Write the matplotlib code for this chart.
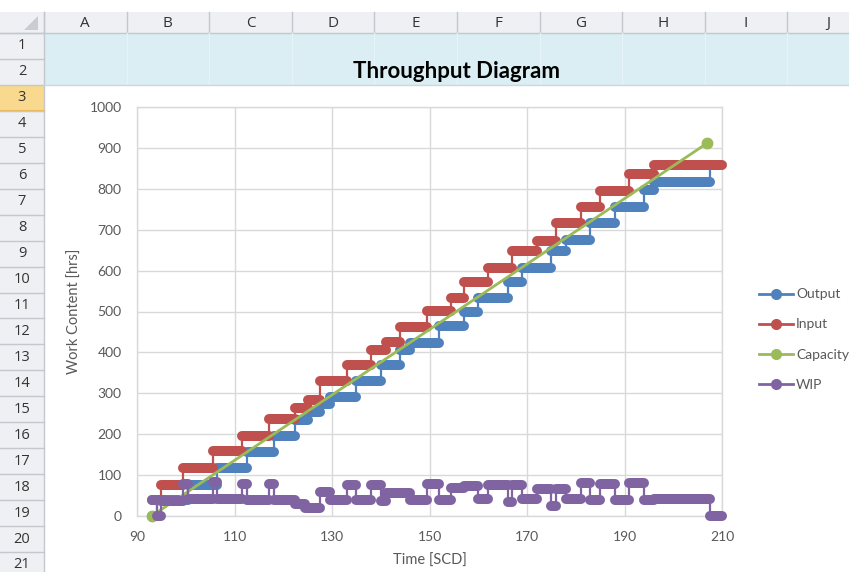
import matplotlib
matplotlib.use('Agg')
import matplotlib.pyplot as plt
from matplotlib.lines import Line2D
from matplotlib.patches import Rectangle, Polygon

# ---------------- data ----------------
input_times = [93, 95, 99.5, 105.5, 111.5, 117, 122.5, 125, 127.5, 133, 138, 141, 144, 149.5,
               154.5, 157, 162, 167, 172, 176, 181, 185, 191, 196]
input_levels = [40, 77, 118, 159, 196, 236, 265, 284, 331, 369, 406, 426, 463, 502,
                532, 573, 607, 649, 673, 716, 755, 795, 835, 857]
input_end = 210

output_times = [93, 94, 100.5, 106.5, 112.5, 118, 122.5, 125, 127.5, 129.5, 135, 140, 144, 146,
                152, 157, 160, 166, 169, 175, 178, 183, 188, 194, 196, 207.5]
output_levels = [0, 40, 77, 118, 157, 196, 235, 255, 275, 292, 331, 369, 407, 424,
                 464, 500, 532, 573, 607, 649, 675, 716, 755, 797, 816, 857]
output_end = 208

capacity_x = [93, 207]
capacity_y = [0, 912]

wip_times = [93, 94, 95, 99.5, 100.5, 105.5, 106.5, 111.5, 112.5, 117, 118, 122.5, 124.5,
             127.5, 129.5, 133, 135, 138, 140, 141, 146, 149.5, 152, 154.5, 157, 160, 162,
             166, 167, 169, 172, 175, 176, 178, 181, 183, 185, 188, 191, 194, 196, 207.5]
wip_levels = [40, 0, 37, 78, 41, 82, 41, 78, 39, 79, 40, 30, 20,
              58, 39, 77, 38, 75, 37, 57, 39, 78, 38, 68, 73, 41, 75,
              34, 76, 42, 66, 24, 67, 41, 80, 39, 79, 40, 80, 38, 41, 0]
wip_end = 210

series_names = ['Output', 'Input', 'Capacity', 'WIP']
x_ticks = [90, 110, 130, 150, 170, 190, 210]
y_ticks = [0, 100, 200, 300, 400, 500, 600, 700, 800, 900, 1000]
col_letters = ['A', 'B', 'C', 'D', 'E', 'F', 'G', 'H', 'I', 'J']
row_numbers = list(range(1, 22))

# ---------------- styling ----------------
C_OUT = '#4F81BD'
C_IN = '#C0504D'
C_CAP = '#9BBB59'
C_WIP = '#8064A2'
FONT = 'Lato'
plt.rcParams['font.family'] = [FONT, 'DejaVu Sans']

W, H = 849, 572
fig = plt.figure(figsize=(W / 100, H / 100), dpi=100)

# spreadsheet background drawn in pixel coordinates
bg = fig.add_axes([0, 0, 1, 1])
bg.set_xlim(0, W)
bg.set_ylim(H, 0)
bg.axis('off')

hdr_top, hdr_bot = 12, 33
row_h = 25.95
col_w = 82.6
left_hdr = 44

# column header band
bg.add_patch(Rectangle((0, hdr_top), W, hdr_bot - hdr_top, facecolor='#EEF0F3', edgecolor='none'))
bg.plot([0, W], [hdr_bot, hdr_bot], color='#C4C8CE', lw=1)
# corner triangle
bg.add_patch(Polygon([[38, 16], [38, 30], [24, 30]], closed=True, facecolor='#C9CDD3', edgecolor='none'))
for i, letter in enumerate(col_letters):
    x0 = left_hdr + i * col_w
    bg.plot([x0, x0], [hdr_top, hdr_bot], color='#C4C8CE', lw=1)
    bg.text(x0 + col_w / 2, (hdr_top + hdr_bot) / 2 + 1, letter, ha='center', va='center',
            fontsize=11, color='#333333', family=['Open Sans', 'DejaVu Sans'])

# row header column
bg.add_patch(Rectangle((0, hdr_bot), left_hdr, H - hdr_bot, facecolor='#EEF0F3', edgecolor='none'))
bg.plot([left_hdr, left_hdr], [hdr_top, H], color='#C4C8CE', lw=1)
for r in row_numbers:
    y0 = hdr_bot + (r - 1) * row_h
    if r == 3:
        bg.add_patch(Rectangle((0, y0), left_hdr, row_h, facecolor='#F8D98E', edgecolor='none'))
        bg.plot([0, left_hdr], [y0 + row_h, y0 + row_h], color='#F2B84B', lw=1.5)
    bg.plot([0, left_hdr], [y0, y0], color='#C4C8CE', lw=1)
    bg.text(left_hdr / 2, y0 + row_h / 2, str(r), ha='center', va='center',
            fontsize=10.5, color='#333333', family=['Open Sans', 'DejaVu Sans'])

# rows 1-2 light blue fill
blue_top = hdr_bot
blue_bot = hdr_bot + 2 * row_h
bg.add_patch(Rectangle((left_hdr, blue_top), W - left_hdr, blue_bot - blue_top,
                       facecolor='#DAEEF3', edgecolor='none'))
for i in range(1, 11):
    x0 = left_hdr + i * col_w
    bg.plot([x0, x0], [blue_top, blue_bot], color='#E6F3F7', lw=1)
bg.plot([left_hdr, W], [blue_bot, blue_bot], color='#D0D7DC', lw=1)
bg.text(457, 71, 'Throughput Diagram', ha='center', va='center', fontsize=16,
        fontweight='bold', color='black')

# chart area (white)
bg.add_patch(Rectangle((left_hdr + 1, blue_bot + 1), W - left_hdr, H - blue_bot, facecolor='white',
                       edgecolor='none'))

# ---------------- plot area ----------------
px_l, px_r, px_t, px_b = 137, 722, 107, 516
ax = fig.add_axes([px_l / W, (H - px_b) / H, (px_r - px_l) / W, (px_b - px_t) / H])
ax.set_facecolor('none')
ax.set_xlim(90, 210)
ax.set_ylim(0, 1000)
ax.set_xticks(x_ticks)
ax.set_yticks(y_ticks)
ax.grid(True, color='#D9D9D9', lw=1)
ax.set_axisbelow(True)
for s in ax.spines.values():
    s.set_color('#D9D9D9')
    s.set_linewidth(1)
ax.tick_params(length=0, labelsize=10, colors='#595959')
ax.tick_params(axis='x', pad=11)
ax.tick_params(axis='y', pad=11)

BAR_LW = 7.2
STEP_LW = 1.6


def draw_steps(times, levels, end, color, z):
    xs = list(times) + [end]
    ys = list(levels) + [levels[-1]]
    ax.plot(xs, ys, drawstyle='steps-post', color=color, lw=STEP_LW, zorder=z, clip_on=False)
    ends = list(times[1:]) + [end]
    hl = ax.hlines(levels, times, ends, colors=color, lw=BAR_LW, zorder=z + 0.1)
    hl.set_capstyle('round')
    hl.set_clip_on(False)


draw_steps(output_times, output_levels, output_end, C_OUT, 2)
draw_steps(input_times, input_levels, input_end, C_IN, 3)
ax.plot(capacity_x, capacity_y, color=C_CAP, lw=2, marker='o', markersize=7.5, zorder=4,
        clip_on=False)
draw_steps(wip_times, wip_levels, wip_end, C_WIP, 5)

ax.set_xlabel('Time [SCD]', fontsize=10.5, color='#595959')
ax.set_ylabel('Work Content [hrs]', fontsize=10.5, color='#595959')
ax.xaxis.set_label_coords((430 - px_l) / (px_r - px_l), -(561 - px_b) / (px_b - px_t))
ax.yaxis.set_label_coords(-(px_l - 75) / (px_r - px_l), (px_b - 311) / (px_b - px_t))
ax.xaxis.label.set_va('center')
ax.yaxis.label.set_va('center')

handles = [Line2D([], [], color=c, lw=2, marker='o', markersize=7)
           for c in (C_OUT, C_IN, C_CAP, C_WIP)]
fig.legend(handles, series_names, loc='center left', bbox_to_anchor=(746 / W, 1 - 339.5 / H),
           frameon=False, fontsize=10, handlelength=2.5, handletextpad=0.2, labelspacing=1.3,
           labelcolor='#595959')

fig.savefig('out.png', dpi=100)
